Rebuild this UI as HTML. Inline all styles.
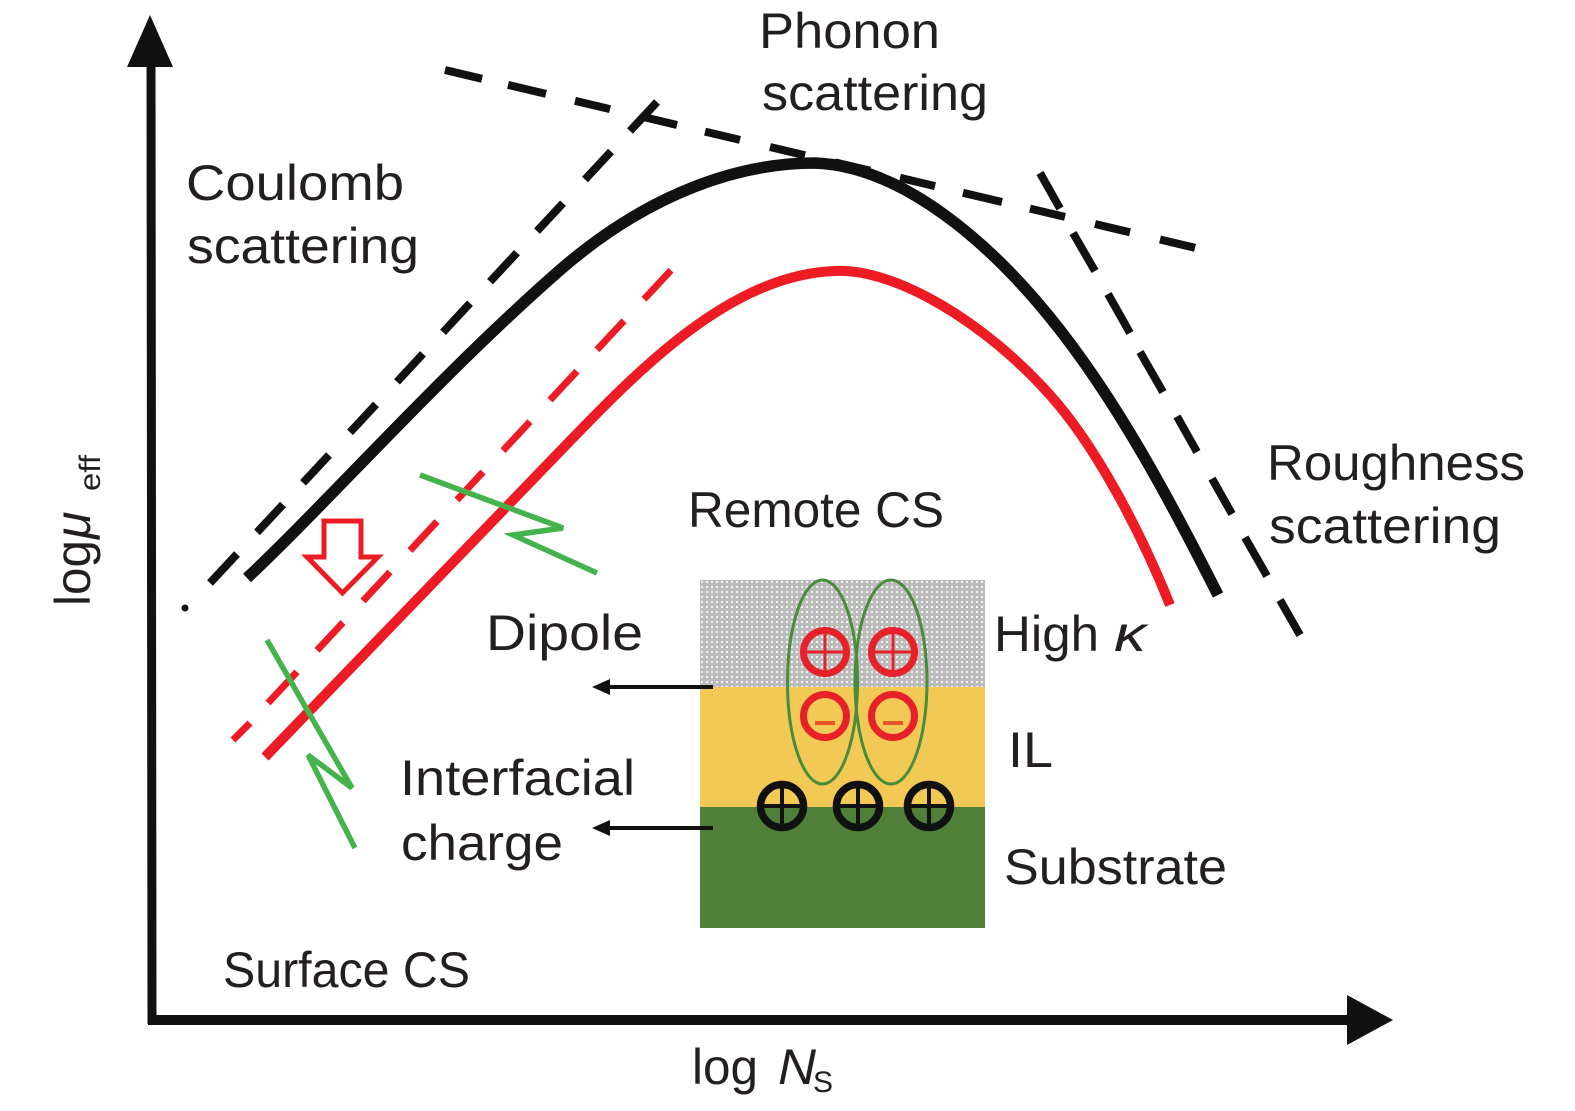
<!DOCTYPE html>
<html>
<head>
<meta charset="utf-8">
<style>
  html,body{margin:0;padding:0;background:#fff;}
  svg{display:block;}
  text{font-family:"Liberation Sans","DejaVu Sans",sans-serif;fill:#231f20;}
</style>
</head>
<body>
<svg width="1575" height="1111" viewBox="0 0 1575 1111" xmlns="http://www.w3.org/2000/svg">
  <defs>
    <pattern id="dots" x="0" y="0" width="5" height="5" patternUnits="userSpaceOnUse">
      <rect width="5" height="5" fill="#bcbcbc"/>
      <rect x="1" y="1" width="2" height="2" fill="#f2f2f2"/>
    </pattern>
  </defs>
  <rect width="1575" height="1111" fill="#fff"/>

  <!-- Axes -->
  <line x1="152" y1="1024" x2="151" y2="60" stroke="#111" stroke-width="9"/>
  <polygon points="150,15 127,67 173,67" fill="#111"/>
  <line x1="148" y1="1020" x2="1350" y2="1020" stroke="#111" stroke-width="10"/>
  <polygon points="1393,1020 1347,995 1347,1045" fill="#111"/>

  <!-- Phonon dashed line -->
  <g stroke="#111" stroke-width="8" stroke-linecap="butt">
    <line x1="445" y1="70" x2="482" y2="78.8"/>
    <line x1="508" y1="84.9" x2="546" y2="93.9"/>
    <line x1="575" y1="100.8" x2="610" y2="109.1"/>
    <line x1="643" y1="116.9" x2="677" y2="125"/>
    <line x1="705" y1="131.6" x2="740" y2="139.9"/>
    <line x1="770" y1="147" x2="805" y2="155.3"/>
    <line x1="835" y1="162.4" x2="870" y2="170.7"/>
    <line x1="900" y1="177.8" x2="935" y2="186.1"/>
    <line x1="963" y1="192.8" x2="1002" y2="202"/>
    <line x1="1030" y1="208.6" x2="1065" y2="216.9"/>
    <line x1="1095" y1="224" x2="1130" y2="232.3"/>
    <line x1="1160" y1="239.5" x2="1195" y2="247.8"/>
  </g>

  <!-- Coulomb dashed line -->
  <circle cx="185" cy="608" r="3.5" fill="#111"/>
  <g stroke="#111" stroke-width="8">
    <line x1="210" y1="583" x2="237" y2="554"/>
    <line x1="257" y1="532.4" x2="283" y2="504.5"/>
    <line x1="303" y1="482.9" x2="329" y2="455"/>
    <line x1="350" y1="432.4" x2="376" y2="404.4"/>
    <line x1="397" y1="381.8" x2="423" y2="353.8"/>
    <line x1="443" y1="332.3" x2="470" y2="303.2"/>
    <line x1="490" y1="281.7" x2="517" y2="252.7"/>
    <line x1="537" y1="231.1" x2="563" y2="203.2"/>
    <line x1="585" y1="179.5" x2="611" y2="151.5"/>
    <line x1="630" y1="131" x2="657" y2="102"/>
  </g>

  <!-- Roughness dashed line -->
  <g stroke="#111" stroke-width="8">
    <line x1="1040" y1="173" x2="1060" y2="208.5"/>
    <line x1="1073" y1="233" x2="1095" y2="271"/>
    <line x1="1108" y1="294" x2="1130" y2="333"/>
    <line x1="1140" y1="352" x2="1163" y2="392"/>
    <line x1="1177" y1="416.4" x2="1197" y2="452"/>
    <line x1="1212" y1="478.6" x2="1232" y2="514"/>
    <line x1="1245" y1="537.5" x2="1267" y2="576"/>
    <line x1="1280" y1="600" x2="1300" y2="635"/>
  </g>

  <!-- Black solid curve -->
  <path d="M247,578 C330,500 440,375 560,270 C650,192 740,163 815,163 C900,166 990,240 1060,330 C1120,407 1170,500 1218,595"
        fill="none" stroke="#111" stroke-width="11.5"/>

  <!-- Red dashed line -->
  <g stroke="#ed1c24" stroke-width="7">
    <line x1="233" y1="740" x2="250" y2="723"/>
    <line x1="268" y1="703" x2="297" y2="671.9"/>
    <line x1="317" y1="650.4" x2="343" y2="622.5"/>
    <line x1="363" y1="601" x2="390" y2="572"/>
    <line x1="410" y1="550.5" x2="437" y2="521.5"/>
    <line x1="457" y1="500" x2="483" y2="472"/>
    <line x1="503" y1="450.6" x2="530" y2="421.6"/>
    <line x1="550" y1="400.1" x2="577" y2="371.1"/>
    <line x1="597" y1="349.7" x2="624" y2="320.7"/>
    <line x1="644" y1="299.2" x2="671" y2="270.2"/>
  </g>

  <!-- Red solid curve -->
  <path d="M265,757 L540,472 C620,390 720,275 835,271 C895,268 985,322 1050,395 C1095,445 1140,530 1170,605"
        fill="none" stroke="#ed1c24" stroke-width="10"/>

  <!-- Hollow red arrow -->
  <polygon points="324,521 361,521 361,557 378,557 342.5,593 307,557 324,557"
           fill="#fff" stroke="#ed1c24" stroke-width="5" stroke-linejoin="miter"/>

  <!-- Green zigzags -->
  <polyline points="420,475 563,528 513,535 597,573" fill="none" stroke="#45b34b" stroke-width="5.5" stroke-linejoin="miter"/>
  <polyline points="267,640 352,788 308,755 355,848" fill="none" stroke="#45b34b" stroke-width="5.5" stroke-linejoin="miter"/>

  <!-- Stack -->
  <rect x="700" y="580" width="285" height="107" fill="url(#dots)"/>
  <rect x="700" y="687" width="285" height="120" fill="#f2c955"/>
  <rect x="700" y="807" width="285" height="121" fill="#508038"/>

  <!-- Dipole ellipses -->
  <ellipse cx="822.5" cy="682" rx="35" ry="102" fill="none" stroke="#4a8c3c" stroke-width="3"/>
  <ellipse cx="891" cy="682" rx="36" ry="102" fill="none" stroke="#4a8c3c" stroke-width="3"/>

  <!-- Red plus charges -->
  <g stroke="#e62129" fill="none">
    <circle cx="825" cy="652" r="21.5" stroke-width="7"/>
    <line x1="807" y1="652" x2="843" y2="652" stroke-width="3"/>
    <line x1="825" y1="634" x2="825" y2="670" stroke-width="3"/>
    <circle cx="893" cy="652" r="21.5" stroke-width="7"/>
    <line x1="875" y1="652" x2="911" y2="652" stroke-width="3"/>
    <line x1="893" y1="634" x2="893" y2="670" stroke-width="3"/>
    <!-- minus charges -->
    <circle cx="825" cy="716" r="21.5" stroke-width="7"/>
    <circle cx="893" cy="716" r="21.5" stroke-width="7"/>
  </g>
  <rect x="815" y="721" width="20" height="4" fill="#e8552a"/>
  <rect x="883" y="721" width="20" height="4" fill="#e8552a"/>

  <!-- Black plus charges -->
  <g stroke="#111" fill="none">
    <circle cx="782" cy="806" r="21.5" stroke-width="7.5"/>
    <line x1="763" y1="806" x2="801" y2="806" stroke-width="4"/>
    <line x1="782" y1="787" x2="782" y2="825" stroke-width="4"/>
    <circle cx="858" cy="806" r="21.5" stroke-width="7.5"/>
    <line x1="839" y1="806" x2="877" y2="806" stroke-width="4"/>
    <line x1="858" y1="787" x2="858" y2="825" stroke-width="4"/>
    <circle cx="929" cy="806" r="21.5" stroke-width="7.5"/>
    <line x1="910" y1="806" x2="948" y2="806" stroke-width="4"/>
    <line x1="929" y1="787" x2="929" y2="825" stroke-width="4"/>
  </g>

  <!-- Label arrows -->
  <line x1="713" y1="687" x2="606" y2="687" stroke="#111" stroke-width="4"/>
  <polygon points="592,687 610,679 610,695" fill="#111"/>
  <line x1="713" y1="828" x2="606" y2="828" stroke="#111" stroke-width="4"/>
  <polygon points="592,828 610,820 610,836" fill="#111"/>

  <!-- Labels -->
  <g font-size="50">
    <text x="759" y="48" textLength="181" lengthAdjust="spacingAndGlyphs">Phonon</text>
    <text x="762" y="110" textLength="226" lengthAdjust="spacingAndGlyphs">scattering</text>
    <text x="186" y="200" textLength="218" lengthAdjust="spacingAndGlyphs">Coulomb</text>
    <text x="187" y="263" textLength="232" lengthAdjust="spacingAndGlyphs">scattering</text>
    <text x="1267" y="480" textLength="258" lengthAdjust="spacingAndGlyphs">Roughness</text>
    <text x="1269" y="543" textLength="232" lengthAdjust="spacingAndGlyphs">scattering</text>
    <text x="688" y="527" textLength="256" lengthAdjust="spacingAndGlyphs">Remote CS</text>
    <text x="486" y="650" textLength="157" lengthAdjust="spacingAndGlyphs">Dipole</text>
    <text x="994" y="651" textLength="105" lengthAdjust="spacingAndGlyphs">High</text>
    <text x="1114" y="651" font-style="italic" textLength="32" lengthAdjust="spacingAndGlyphs">κ</text>
    <text x="1008" y="767" textLength="45" lengthAdjust="spacingAndGlyphs">IL</text>
    <text x="400" y="795" textLength="235" lengthAdjust="spacingAndGlyphs">Interfacial</text>
    <text x="401" y="860" textLength="162" lengthAdjust="spacingAndGlyphs">charge</text>
    <text x="1004" y="884" textLength="223" lengthAdjust="spacingAndGlyphs">Substrate</text>
    <text x="223" y="987" textLength="247" lengthAdjust="spacingAndGlyphs">Surface CS</text>
    <text x="692" y="1084" textLength="66" lengthAdjust="spacingAndGlyphs">log</text>
    <text x="778" y="1084" font-style="italic" textLength="38" lengthAdjust="spacingAndGlyphs">N</text>
    <text x="813" y="1092" font-size="30">S</text>
  </g>

  <!-- Y axis label -->
  <g transform="translate(90,603) rotate(-90)">
    <text x="-3" y="0" font-size="50" textLength="66" lengthAdjust="spacingAndGlyphs">log</text>
    <text x="64" y="0" font-size="50" font-style="italic">μ</text>
    <text x="112" y="10" font-size="30" textLength="36" lengthAdjust="spacingAndGlyphs">eff</text>
  </g>
</svg>
</body>
</html>
